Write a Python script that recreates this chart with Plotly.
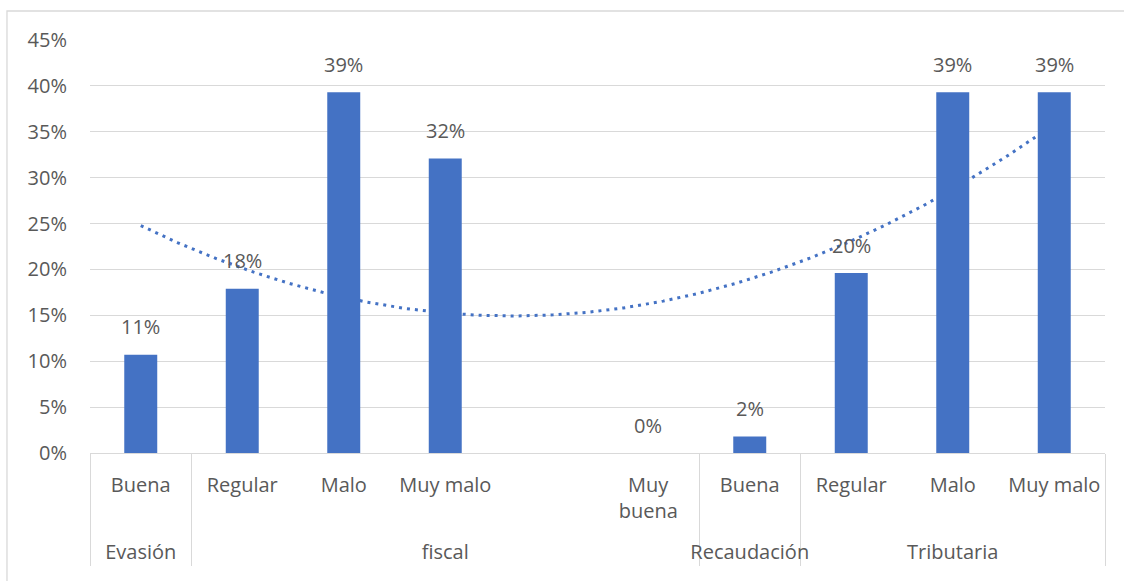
import numpy as np
import plotly.graph_objects as go

groups = ["Evasión", "fiscal", "fiscal", "fiscal", "fiscal", "fiscal",
          "Recaudación", "Tributaria", "Tributaria", "Tributaria"]
categories = ["Buena", "Regular", "Malo", "Muy malo", " ", "Muy<br>buena<br>&nbsp;",
              "Buena", "Regular", "Malo", "Muy malo"]
values = [0.107, 0.179, 0.393, 0.321, None, 0.0, 0.018, 0.196, 0.393, 0.393]
y_ticks = [0, 0.05, 0.10, 0.15, 0.20, 0.25, 0.30, 0.35, 0.40, 0.45]

BLUE = "#4472C4"
GRID = "#D9D9D9"
TXT = "#595959"
FONT = "Open Sans"
FS = 20

# polynomial (order 2) trendline fitted on the available points
idx = np.array([i for i, v in enumerate(values) if v is not None], dtype=float)
vals = np.array([v for v in values if v is not None], dtype=float)
coef = np.polyfit(idx, vals, 2)
tx = np.linspace(0, len(values) - 1, 300)
ty = np.polyval(coef, tx)

fig = go.Figure()
fig.add_trace(go.Scatter(
    x=tx, y=ty, mode="lines", xaxis="x", yaxis="y",
    line=dict(color=BLUE, width=3, dash="3px,5px"),
    hoverinfo="skip", showlegend=False,
))
fig.add_trace(go.Bar(
    x=[groups, categories], y=values, xaxis="x2", yaxis="y",
    marker=dict(color=BLUE, line=dict(width=0)),
    showlegend=False,
))

annotations = []
for i, v in enumerate(values):
    if v is None:
        continue
    annotations.append(dict(
        x=i, y=v, xref="x", yref="y", text=f"{v:.0%}", showarrow=False,
        yanchor="middle", yshift=28,
        font=dict(family=FONT, size=FS, color=TXT),
    ))

fig.update_layout(
    width=1124, height=581,
    margin=dict(l=90, r=19, t=40, b=128),
    paper_bgcolor="white", plot_bgcolor="white",
    font=dict(family=FONT, size=FS, color=TXT),
    bargap=0.675,
    xaxis=dict(range=[-0.5, len(values) - 0.5], visible=False, fixedrange=True),
    xaxis2=dict(
        type="multicategory", overlaying="x", anchor="y", side="bottom",
        showline=True, linecolor=GRID, linewidth=1,
        showgrid=False, ticks="",
        showdividers=True, dividercolor=GRID, dividerwidth=1,
        ticklabelstandoff=14,
        tickfont=dict(family=FONT, size=FS, color=TXT),
    ),
    yaxis=dict(
        range=[0, 0.45], tickvals=y_ticks, tickformat=".0%",
        showgrid=True, gridcolor=GRID, gridwidth=1.3,
        zeroline=False, showline=False, ticks="",
        ticklabelstandoff=22,
        tickfont=dict(family=FONT, size=FS, color=TXT),
    ),
    annotations=annotations,
    shapes=[dict(type="rect", xref="paper", yref="paper",
                 x0=-0.0818, x1=1.05, y0=-0.4, y1=1.0702,
                 line=dict(color=GRID, width=1.3), layer="below")],
)

fig.write_html("out.html", config={"displayModeBar": False},
               post_script="document.body.style.margin='0';")
